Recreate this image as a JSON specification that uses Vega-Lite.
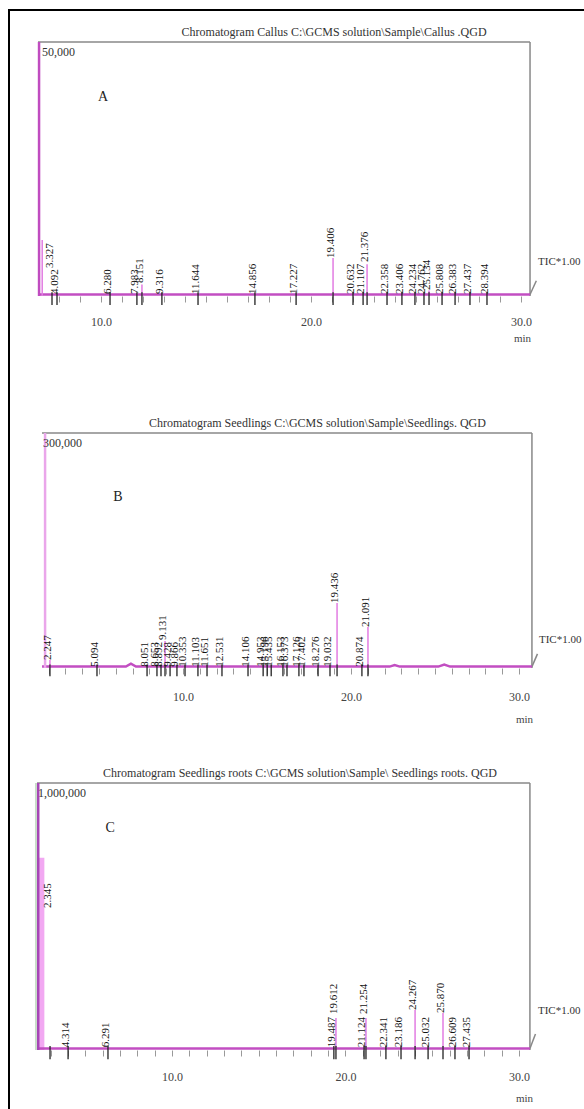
{
  "$schema": "https://vega.github.io/schema/vega-lite/v6.json",
  "width": 577,
  "height": 1101,
  "autosize": "none",
  "padding": {"left": 9, "top": 10, "right": -2, "bottom": -2},
  "background": "white",
  "config": {"view": {"stroke": "#000", "strokeWidth": 2}},
  "datasets": {
    "A_frame": [{"t": 7.0, "v": 100, "t2": 30.43, "v2": 100}, {"t": 30.43, "v": 0, "t2": 30.43, "v2": 100}, {"t": 30.43, "v": 0.6, "t2": 30.73, "v2": 6}],
    "A_title": [{"t": 21.1, "v": 100, "lab": "Chromatogram Callus  C:\\GCMS solution\\Sample\\Callus .QGD"}],
    "A_top": [{"t": 7.0, "v": 100, "lab": "50,000"}],
    "A_letter": [{"t": 10.1, "v": 78.3, "lab": "A"}],
    "A_tic": [{"t": 30.43, "v": 13.4, "lab": "TIC*1.00"}],
    "A_base": [{"t": 7.0, "v": 0.6}, {"t": 30.43, "v": 0.6}],
    "A_main": [{"t": 7.05, "v": 100}],
    "A_peaks": [{"t": 7.2, "v": 22}, {"t": 11.95, "v": 4.5}, {"t": 21.05, "v": 15.0}, {"t": 22.67, "v": 12.5}, {"t": 25.62, "v": 2.2}],
    "A_labels": [
      {"t": 7.667, "v": 11.0, "lab": "3.327"},
      {"t": 7.905, "v": 0.8, "lab": "4.092"},
      {"t": 10.43, "v": 0.8, "lab": "6.280"},
      {"t": 11.71, "v": 0.8, "lab": "7.983"},
      {"t": 11.95, "v": 5.1, "lab": "8.151"},
      {"t": 12.9, "v": 0.8, "lab": "9.316"},
      {"t": 14.62, "v": 0.8, "lab": "11.644"},
      {"t": 17.33, "v": 0.8, "lab": "14.856"},
      {"t": 19.29, "v": 0.8, "lab": "17.227"},
      {"t": 21.05, "v": 15.0, "lab": "19.406"},
      {"t": 22.0, "v": 0.8, "lab": "20.632"},
      {"t": 22.48, "v": 0.8, "lab": "21.107"},
      {"t": 22.67, "v": 13.4, "lab": "21.376"},
      {"t": 23.62, "v": 0.8, "lab": "22.358"},
      {"t": 24.33, "v": 0.8, "lab": "23.406"},
      {"t": 24.95, "v": 0.8, "lab": "24.234"},
      {"t": 25.38, "v": 0.8, "lab": "24.762"},
      {"t": 25.62, "v": 2.4, "lab": "25.134"},
      {"t": 26.24, "v": 0.8, "lab": "25.808"},
      {"t": 26.86, "v": 0.8, "lab": "26.383"},
      {"t": 27.57, "v": 0.8, "lab": "27.437"},
      {"t": 28.38, "v": 0.8, "lab": "28.394"}
    ],
    "B_frame": [{"t": 1.607, "v": 100, "t2": 30.77, "v2": 100}, {"t": 30.77, "v": 0, "t2": 30.77, "v2": 100}, {"t": 30.77, "v": 0.6, "t2": 31.1, "v2": 6}],
    "B_title": [{"t": 18.0, "v": 100, "lab": "Chromatogram Seedlings C:\\GCMS solution\\Sample\\Seedlings. QGD"}],
    "B_top": [{"t": 1.607, "v": 100, "lab": "300,000"}],
    "B_letter": [{"t": 6.13, "v": 72.8, "lab": "B"}],
    "B_tic": [{"t": 30.77, "v": 11.9, "lab": "TIC*1.00"}],
    "B_base": [{"t": 1.61, "v": 0.6}, {"t": 6.6, "v": 0.6}, {"t": 6.9, "v": 1.8}, {"t": 7.2, "v": 0.6}, {"t": 22.3, "v": 0.6}, {"t": 22.6, "v": 1.3}, {"t": 22.9, "v": 0.6}, {"t": 25.2, "v": 0.6}, {"t": 25.55, "v": 1.5}, {"t": 25.9, "v": 0.6}, {"t": 30.77, "v": 0.6}],
    "B_main": [{"t": 1.79, "v": 100}],
    "B_peaks": [{"t": 19.17, "v": 27.7}, {"t": 21.01, "v": 17.4}, {"t": 8.93, "v": 11.5}, {"t": 2.08, "v": 3.4}],
    "B_labels": [
      {"t": 2.08, "v": 3.4, "lab": "2.247"},
      {"t": 4.88, "v": 0.5, "lab": "5.094"},
      {"t": 7.86, "v": 0.5, "lab": "8.051"},
      {"t": 8.45, "v": 0.5, "lab": "8.653"},
      {"t": 8.69, "v": 0.5, "lab": "8.892"},
      {"t": 8.93, "v": 11.9, "lab": "9.131"},
      {"t": 9.23, "v": 0.5, "lab": "9.428"},
      {"t": 9.64, "v": 0.5, "lab": "9.866"},
      {"t": 10.12, "v": 0.5, "lab": "10.353"},
      {"t": 10.89, "v": 0.5, "lab": "11.103"},
      {"t": 11.43, "v": 0.5, "lab": "11.651"},
      {"t": 12.32, "v": 0.5, "lab": "12.531"},
      {"t": 13.87, "v": 0.5, "lab": "14.106"},
      {"t": 14.77, "v": 0.5, "lab": "14.953"},
      {"t": 15.01, "v": 0.5, "lab": "15.196"},
      {"t": 15.25, "v": 0.5, "lab": "15.435"},
      {"t": 15.95, "v": 0.5, "lab": "16.153"},
      {"t": 16.19, "v": 0.5, "lab": "16.373"},
      {"t": 16.9, "v": 0.5, "lab": "17.126"},
      {"t": 17.2, "v": 0.5, "lab": "17.402"},
      {"t": 18.04, "v": 0.5, "lab": "18.276"},
      {"t": 18.75, "v": 0.5, "lab": "19.032"},
      {"t": 19.17, "v": 27.7, "lab": "19.436"},
      {"t": 20.65, "v": 0.5, "lab": "20.874"},
      {"t": 21.01, "v": 17.4, "lab": "21.091"}
    ],
    "C_frame": [{"t": 2.219, "v": 100, "t2": 30.63, "v2": 100}, {"t": 30.63, "v": 0, "t2": 30.63, "v2": 100}, {"t": 30.63, "v": 0.6, "t2": 30.95, "v2": 6}],
    "C_edge": [{"t": 2.16, "v": 0, "t2": 2.16, "v2": 100}],
    "C_title": [{"t": 17.38, "v": 100, "lab": "Chromatogram  Seedlings roots C:\\GCMS solution\\Sample\\ Seedlings roots. QGD"}],
    "C_top": [{"t": 2.219, "v": 100, "lab": "1,000,000"}],
    "C_letter": [{"t": 6.43, "v": 83.1, "lab": "C"}],
    "C_tic": [{"t": 30.63, "v": 14.6, "lab": "TIC*1.00"}],
    "C_base": [{"t": 2.22, "v": 0.6}, {"t": 30.63, "v": 0.6}],
    "C_main": [{"t": 2.29, "v": 100}],
    "C_broad": [{"t": 2.47, "v": 72}],
    "C_peaks": [{"t": 24.01, "v": 15.0}, {"t": 25.62, "v": 13.9}, {"t": 19.45, "v": 12}, {"t": 21.18, "v": 12}],
    "C_labels": [
      {"t": 2.97, "v": 53.2, "lab": "2.345"},
      {"t": 4.01, "v": 1.0, "lab": "4.314"},
      {"t": 6.31, "v": 1.0, "lab": "6.291"},
      {"t": 19.33, "v": 1.0, "lab": "19.487"},
      {"t": 19.45, "v": 13.5, "lab": "19.612"},
      {"t": 21.07, "v": 1.0, "lab": "21.124"},
      {"t": 21.18, "v": 13.5, "lab": "21.254"},
      {"t": 22.33, "v": 1.0, "lab": "22.341"},
      {"t": 23.2, "v": 1.0, "lab": "23.186"},
      {"t": 24.01, "v": 15.0, "lab": "24.267"},
      {"t": 24.76, "v": 1.0, "lab": "25.032"},
      {"t": 25.62, "v": 13.9, "lab": "25.870"},
      {"t": 26.31, "v": 1.0, "lab": "26.609"},
      {"t": 27.12, "v": 1.0, "lab": "27.435"}
    ]
  },
  "resolve": {"scale": {"x": "independent", "y": "independent"}, "axis": {"x": "independent", "y": "independent"}},
  "layer": [
    {
      "encoding": {
        "x": {"field": "t", "type": "quantitative", "scale": {"domain": [5.619, 33.095], "nice": false, "zero": false},
          "axis": {"orient": "bottom", "offset": -815, "values": [8,9,10,11,12,13,14,15,16,17,18,19,20,21,22,23,24,25,26,27,28,29,30],
            "labelExpr": "datum.value % 10 === 0 ? format(datum.value, '.1f') : ''", "labelOverlap": false, "labelFlush": false, "labelBound": false,
            "domain": false, "grid": false, "tickColor": "#999", "tickWidth": 1, "tickSize": 6,
            "labelPadding": 14, "labelFont": "Liberation Serif", "labelFontSize": 12, "labelColor": "#444",
            "title": "min", "titleFont": "Liberation Serif", "titleFontSize": 11, "titleFontWeight": "normal", "titleColor": "#444",
            "titleX": 513, "titleY": 42, "titleAlign": "center", "titleBaseline": "middle", "titleAngle": 0}},
        "y": {"field": "v", "type": "quantitative", "scale": {"domain": [-320.866, 112.598], "nice": false, "zero": false}, "axis": null}
      },
      "layer": [
        {"data": {"name": "A_frame"}, "mark": {"type": "rule", "color": "#888", "strokeWidth": 1.5}, "encoding": {"x2": {"field": "t2"}, "y2": {"field": "v2"}}},
        {"data": {"name": "A_base"}, "mark": {"type": "line", "color": "#c24ec2", "strokeWidth": 2.5}},
        {"data": {"name": "A_main"}, "mark": {"type": "rule", "color": "#c04cc0", "strokeWidth": 2.5}, "encoding": {"y2": {"datum": 0}}},
        {"data": {"name": "A_peaks"}, "mark": {"type": "rule", "color": "#e27ce2", "strokeWidth": 1.5}, "encoding": {"y2": {"datum": 0}}},
        {"data": {"name": "A_labels"}, "mark": {"type": "rule", "color": "#222", "strokeWidth": 1.3}, "encoding": {"y": {"datum": -3.5, "axis": null}, "y2": {"datum": 1.5}}},
        {"data": {"name": "A_labels"}, "mark": {"type": "text", "angle": 270, "align": "left", "baseline": "middle", "dy": -2, "font": "Liberation Serif", "fontSize": 11, "color": "#111"}, "encoding": {"text": {"field": "lab"}}},
        {"data": {"name": "A_title"}, "mark": {"type": "text", "font": "Liberation Serif", "fontSize": 12, "color": "#333", "align": "center", "baseline": "alphabetic", "dy": -6}, "encoding": {"text": {"field": "lab"}}},
        {"data": {"name": "A_top"}, "mark": {"type": "text", "font": "Liberation Serif", "fontSize": 12, "color": "#333", "align": "left", "baseline": "middle", "dx": 4, "dy": 10}, "encoding": {"text": {"field": "lab"}}},
        {"data": {"name": "A_letter"}, "mark": {"type": "text", "font": "Liberation Serif", "fontSize": 14, "color": "#222", "align": "center", "baseline": "middle"}, "encoding": {"text": {"field": "lab"}}},
        {"data": {"name": "A_tic"}, "mark": {"type": "text", "font": "Liberation Serif", "fontSize": 11, "color": "#333", "align": "left", "baseline": "middle", "dx": 8}, "encoding": {"text": {"field": "lab"}}}
      ]
    },
    {
      "encoding": {
        "x": {"field": "t", "type": "quantitative", "scale": {"domain": [-0.357, 33.988], "nice": false, "zero": false},
          "axis": {"orient": "bottom", "offset": -443, "values": [2,3,4,5,6,7,8,9,10,11,12,13,14,15,16,17,18,19,20,21,22,23,24,25,26,27,28,29,30],
            "labelExpr": "datum.value % 10 === 0 ? format(datum.value, '.1f') : ''", "labelOverlap": false, "labelFlush": false, "labelBound": false,
            "domain": false, "grid": false, "tickColor": "#999", "tickWidth": 1, "tickSize": 6,
            "labelPadding": 17, "labelFont": "Liberation Serif", "labelFontSize": 12, "labelColor": "#444",
            "title": "min", "titleFont": "Liberation Serif", "titleFontSize": 11, "titleFontWeight": "normal", "titleColor": "#444",
            "titleX": 515, "titleY": 51, "titleAlign": "center", "titleBaseline": "middle", "titleAngle": 0}},
        "y": {"field": "v", "type": "quantitative", "scale": {"domain": [-188.511, 280.0], "nice": false, "zero": false}, "axis": null}
      },
      "layer": [
        {"data": {"name": "B_frame"}, "mark": {"type": "rule", "color": "#888", "strokeWidth": 1.5}, "encoding": {"x2": {"field": "t2"}, "y2": {"field": "v2"}}},
        {"data": {"name": "B_base"}, "mark": {"type": "line", "color": "#c24ec2", "strokeWidth": 2.5}},
        {"data": {"name": "B_main"}, "mark": {"type": "rule", "color": "#eaa6ea", "strokeWidth": 2.5}, "encoding": {"y2": {"datum": 0}}},
        {"data": {"name": "B_peaks"}, "mark": {"type": "rule", "color": "#e27ce2", "strokeWidth": 1.5}, "encoding": {"y2": {"datum": 0}}},
        {"data": {"name": "B_labels"}, "mark": {"type": "rule", "color": "#222", "strokeWidth": 1.3}, "encoding": {"y": {"datum": -3.5, "axis": null}, "y2": {"datum": 1.5}}},
        {"data": {"name": "B_labels"}, "mark": {"type": "text", "angle": 270, "align": "left", "baseline": "middle", "dy": -2, "font": "Liberation Serif", "fontSize": 11, "color": "#111"}, "encoding": {"text": {"field": "lab"}}},
        {"data": {"name": "B_title"}, "mark": {"type": "text", "font": "Liberation Serif", "fontSize": 12, "color": "#333", "align": "center", "baseline": "alphabetic", "dy": -6}, "encoding": {"text": {"field": "lab"}}},
        {"data": {"name": "B_top"}, "mark": {"type": "text", "font": "Liberation Serif", "fontSize": 12, "color": "#333", "align": "left", "baseline": "middle", "dx": 1, "dy": 10}, "encoding": {"text": {"field": "lab"}}},
        {"data": {"name": "B_letter"}, "mark": {"type": "text", "font": "Liberation Serif", "fontSize": 14, "color": "#222", "align": "center", "baseline": "middle"}, "encoding": {"text": {"field": "lab"}}},
        {"data": {"name": "B_tic"}, "mark": {"type": "text", "font": "Liberation Serif", "fontSize": 11, "color": "#333", "align": "left", "baseline": "middle", "dx": 7}, "encoding": {"text": {"field": "lab"}}}
      ]
    },
    {
      "encoding": {
        "x": {"field": "t", "type": "quantitative", "scale": {"domain": [0.605, 33.862], "nice": false, "zero": false},
          "axis": {"orient": "bottom", "offset": -61, "values": [3,4,5,6,7,8,9,10,11,12,13,14,15,16,17,18,19,20,21,22,23,24,25,26,27,28,29,30],
            "labelExpr": "datum.value % 10 === 0 ? format(datum.value, '.1f') : ''", "labelOverlap": false, "labelFlush": false, "labelBound": false,
            "domain": false, "grid": false, "tickColor": "#999", "tickWidth": 1, "tickSize": 6,
            "labelPadding": 15, "labelFont": "Liberation Serif", "labelFontSize": 12, "labelColor": "#444",
            "title": "min", "titleFont": "Liberation Serif", "titleFontSize": 11, "titleFontWeight": "normal", "titleColor": "#444",
            "titleX": 515, "titleY": 48, "titleAlign": "center", "titleBaseline": "middle", "titleAngle": 0}},
        "y": {"field": "v", "type": "quantitative", "scale": {"domain": [-22.846, 389.513], "nice": false, "zero": false}, "axis": null}
      },
      "layer": [
        {"data": {"name": "C_frame"}, "mark": {"type": "rule", "color": "#888", "strokeWidth": 1.5}, "encoding": {"x2": {"field": "t2"}, "y2": {"field": "v2"}}},
        {"data": {"name": "C_edge"}, "mark": {"type": "rule", "color": "#b8d4b8", "strokeWidth": 1.5}, "encoding": {"x2": {"field": "t2"}, "y2": {"field": "v2"}}},
        {"data": {"name": "C_broad"}, "mark": {"type": "rule", "color": "#f2a8f2", "strokeWidth": 6}, "encoding": {"y2": {"datum": 0}}},
        {"data": {"name": "C_base"}, "mark": {"type": "line", "color": "#c24ec2", "strokeWidth": 2.5}},
        {"data": {"name": "C_main"}, "mark": {"type": "rule", "color": "#a546b5", "strokeWidth": 2.5}, "encoding": {"y2": {"datum": 0}}},
        {"data": {"name": "C_peaks"}, "mark": {"type": "rule", "color": "#e27ce2", "strokeWidth": 1.5}, "encoding": {"y2": {"datum": 0}}},
        {"data": {"name": "C_labels"}, "mark": {"type": "rule", "color": "#222", "strokeWidth": 1.3}, "encoding": {"y": {"datum": -3.5, "axis": null}, "y2": {"datum": 1.5}}},
        {"data": {"name": "C_labels"}, "mark": {"type": "text", "angle": 270, "align": "left", "baseline": "middle", "dy": -2, "font": "Liberation Serif", "fontSize": 11, "color": "#111"}, "encoding": {"text": {"field": "lab"}}},
        {"data": {"name": "C_title"}, "mark": {"type": "text", "font": "Liberation Serif", "fontSize": 12, "color": "#333", "align": "center", "baseline": "alphabetic", "dy": -6}, "encoding": {"text": {"field": "lab"}}},
        {"data": {"name": "C_top"}, "mark": {"type": "text", "font": "Liberation Serif", "fontSize": 12, "color": "#333", "align": "left", "baseline": "middle", "dx": 1, "dy": 10}, "encoding": {"text": {"field": "lab"}}},
        {"data": {"name": "C_letter"}, "mark": {"type": "text", "font": "Liberation Serif", "fontSize": 14, "color": "#222", "align": "center", "baseline": "middle"}, "encoding": {"text": {"field": "lab"}}},
        {"data": {"name": "C_tic"}, "mark": {"type": "text", "font": "Liberation Serif", "fontSize": 11, "color": "#333", "align": "left", "baseline": "middle", "dx": 8}, "encoding": {"text": {"field": "lab"}}}
      ]
    }
  ]
}
